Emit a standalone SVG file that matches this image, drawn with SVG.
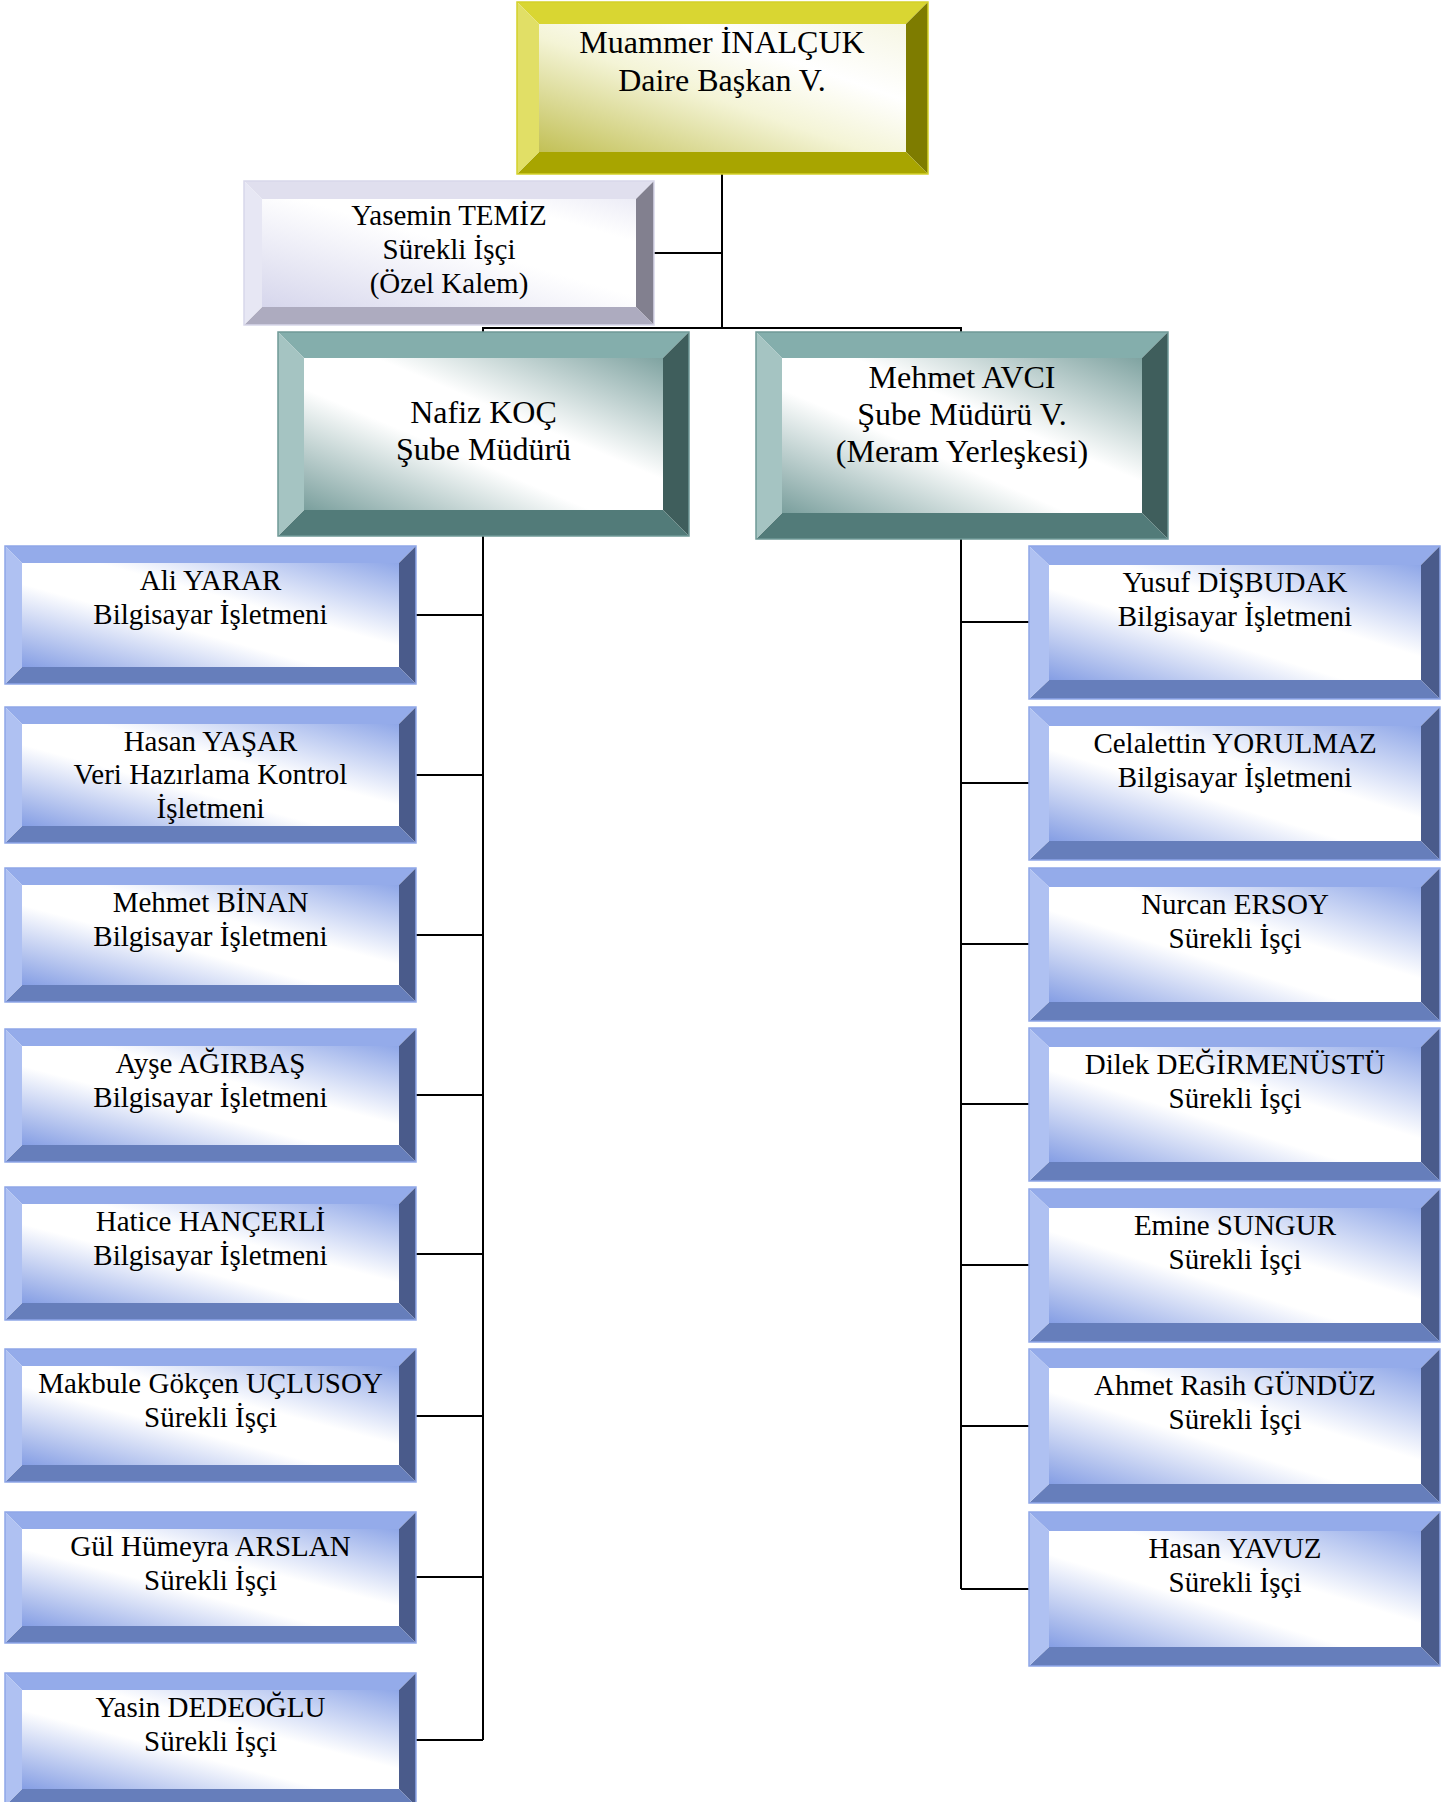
<svg xmlns="http://www.w3.org/2000/svg" width="1453" height="1802" viewBox="0 0 1453 1802">
<style>
text{font-family:"Liberation Serif","Times New Roman",serif;fill:#000;text-anchor:middle}
.t29{font-size:29px}.t32{font-size:32px}
.bt{fill:#94abea}.bl{fill:#afc1f2}.br{fill:#4a5b8b}.bb{fill:#667ebb}.bi{fill:url(#gB)}
.tt{fill:#84aeac}.tl{fill:#a5c4c2}.tr{fill:#3f5e5c}.tb{fill:#527b79}.ti{fill:url(#gT)}
.yt{fill:#d9d632}.yl{fill:#e1df66}.yr{fill:#7e7c00}.yb{fill:#a8a500}.yi{fill:url(#gY)}
.gt{fill:#e0dfee}.gl{fill:#e7e7f4}.gr{fill:#82808f}.gb{fill:#adabbf}.gi{fill:url(#gG)}
.edgeB{fill:none;stroke:#8ea6e8;stroke-width:1.5}
.edgeT{fill:none;stroke:#6f9997;stroke-width:1.5}
.edgeY{fill:none;stroke:#d4d12a;stroke-width:1.5}
.edgeG{fill:none;stroke:#d8d7ea;stroke-width:1.5}
.con{fill:none;stroke:#000;stroke-width:2}
</style>
<defs>
<linearGradient id="gB" x1="1" y1="0" x2="0" y2="1">
<stop offset="0" stop-color="#8fa7e8"/><stop offset="0.4" stop-color="#ffffff"/><stop offset="0.6" stop-color="#ffffff"/><stop offset="1" stop-color="#859ee4"/>
</linearGradient>
<linearGradient id="gT" x1="1" y1="0" x2="0" y2="1">
<stop offset="0" stop-color="#7fa3a1"/><stop offset="0.4" stop-color="#ffffff"/><stop offset="0.6" stop-color="#ffffff"/><stop offset="1" stop-color="#7a9f9d"/>
</linearGradient>
<linearGradient id="gY" x1="0" y1="1" x2="1" y2="0">
<stop offset="0" stop-color="#c2c056"/><stop offset="0.45" stop-color="#f4f4d6"/><stop offset="0.7" stop-color="#ffffff"/><stop offset="1" stop-color="#f6f6e4"/>
</linearGradient>
<linearGradient id="gG" x1="0" y1="1" x2="1" y2="0">
<stop offset="0" stop-color="#d6d6ec"/><stop offset="0.55" stop-color="#ffffff"/><stop offset="0.8" stop-color="#ffffff"/><stop offset="1" stop-color="#ececf6"/>
</linearGradient>
</defs>

<g id="connectors">
<path class="con" d="M722,174 V328 M654,253 H722 M483,328 H961 M483,327 V332 M961,327 V332"/>
<path class="con" d="M483,536 V1740 M416,615 H483 M416,775 H483 M416,935 H483 M416,1095 H483 M416,1254 H483 M416,1416 H483 M416,1577 H483 M416,1740 H483"/>
<path class="con" d="M961,539 V1589 M961,622 H1029 M961,783 H1029 M961,944 H1029 M961,1104 H1029 M961,1265 H1029 M961,1426 H1029 M961,1589 H1029"/>
</g>

<g id="n-inalcuk">
<polygon class="yt" points="517,2 928,2 906,24 539,24"/>
<polygon class="yr" points="928,2 928,174 906,152 906,24"/>
<polygon class="yb" points="517,174 928,174 906,152 539,152"/>
<polygon class="yl" points="517,2 539,24 539,152 517,174"/>
<rect class="yi" x="539" y="24" width="367" height="128"/>
<rect class="edgeY" x="517" y="2" width="411" height="172"/>
<text class="t32" x="722" y="53">Muammer İNALÇUK</text>
<text class="t32" x="722" y="91">Daire Başkan V.</text>
</g>

<g id="n-temiz">
<polygon class="gt" points="244,181 654,181 636,199 262,199"/>
<polygon class="gr" points="654,181 654,325 636,307 636,199"/>
<polygon class="gb" points="244,325 654,325 636,307 262,307"/>
<polygon class="gl" points="244,181 262,199 262,307 244,325"/>
<rect class="gi" x="262" y="199" width="374" height="108"/>
<rect class="edgeG" x="244" y="181" width="410" height="144"/>
<text class="t29" x="449" y="225">Yasemin TEMİZ</text>
<text class="t29" x="449" y="259">Sürekli İşçi</text>
<text class="t29" x="449" y="293">(Özel Kalem)</text>
</g>

<g id="n-koc">
<polygon class="tt" points="278,332 689,332 663,358 304,358"/>
<polygon class="tr" points="689,332 689,536 663,510 663,358"/>
<polygon class="tb" points="278,536 689,536 663,510 304,510"/>
<polygon class="tl" points="278,332 304,358 304,510 278,536"/>
<rect class="ti" x="304" y="358" width="359" height="152"/>
<rect class="edgeT" x="278" y="332" width="411" height="204"/>
<text class="t32" x="483.5" y="423">Nafiz KOÇ</text>
<text class="t32" x="483.5" y="460">Şube Müdürü</text>
</g>

<g id="n-avci">
<polygon class="tt" points="756,332 1168,332 1142,358 782,358"/>
<polygon class="tr" points="1168,332 1168,539 1142,513 1142,358"/>
<polygon class="tb" points="756,539 1168,539 1142,513 782,513"/>
<polygon class="tl" points="756,332 782,358 782,513 756,539"/>
<rect class="ti" x="782" y="358" width="360" height="155"/>
<rect class="edgeT" x="756" y="332" width="412" height="207"/>
<text class="t32" x="962" y="388">Mehmet AVCI</text>
<text class="t32" x="962" y="425">Şube Müdürü V.</text>
<text class="t32" x="962" y="462">(Meram Yerleşkesi)</text>
</g>

<g id="n-yarar">
<polygon class="bt" points="5,546 416,546 399,563 22,563"/>
<polygon class="br" points="416,546 416,684 399,667 399,563"/>
<polygon class="bb" points="5,684 416,684 399,667 22,667"/>
<polygon class="bl" points="5,546 22,563 22,667 5,684"/>
<rect class="bi" x="22" y="563" width="377" height="104"/>
<rect class="edgeB" x="5" y="546" width="411" height="138"/>
<text class="t29" x="210.5" y="590">Ali YARAR</text>
<text class="t29" x="210.5" y="624">Bilgisayar İşletmeni</text>
</g>

<g id="n-yasar">
<polygon class="bt" points="5,707 416,707 399,724 22,724"/>
<polygon class="br" points="416,707 416,843 399,826 399,724"/>
<polygon class="bb" points="5,843 416,843 399,826 22,826"/>
<polygon class="bl" points="5,707 22,724 22,826 5,843"/>
<rect class="bi" x="22" y="724" width="377" height="102"/>
<rect class="edgeB" x="5" y="707" width="411" height="136"/>
<text class="t29" x="210.5" y="751">Hasan YAŞAR</text>
<text class="t29" x="210.5" y="784">Veri Hazırlama Kontrol</text>
<text class="t29" x="210.5" y="818">İşletmeni</text>
</g>

<g id="n-binan">
<polygon class="bt" points="5,868 416,868 399,885 22,885"/>
<polygon class="br" points="416,868 416,1002 399,985 399,885"/>
<polygon class="bb" points="5,1002 416,1002 399,985 22,985"/>
<polygon class="bl" points="5,868 22,885 22,985 5,1002"/>
<rect class="bi" x="22" y="885" width="377" height="100"/>
<rect class="edgeB" x="5" y="868" width="411" height="134"/>
<text class="t29" x="210.5" y="912">Mehmet BİNAN</text>
<text class="t29" x="210.5" y="946">Bilgisayar İşletmeni</text>
</g>

<g id="n-agirbas">
<polygon class="bt" points="5,1029 416,1029 399,1046 22,1046"/>
<polygon class="br" points="416,1029 416,1162 399,1145 399,1046"/>
<polygon class="bb" points="5,1162 416,1162 399,1145 22,1145"/>
<polygon class="bl" points="5,1029 22,1046 22,1145 5,1162"/>
<rect class="bi" x="22" y="1046" width="377" height="99"/>
<rect class="edgeB" x="5" y="1029" width="411" height="133"/>
<text class="t29" x="210.5" y="1073">Ayşe AĞIRBAŞ</text>
<text class="t29" x="210.5" y="1107">Bilgisayar İşletmeni</text>
</g>

<g id="n-hancerli">
<polygon class="bt" points="5,1187 416,1187 399,1204 22,1204"/>
<polygon class="br" points="416,1187 416,1320 399,1303 399,1204"/>
<polygon class="bb" points="5,1320 416,1320 399,1303 22,1303"/>
<polygon class="bl" points="5,1187 22,1204 22,1303 5,1320"/>
<rect class="bi" x="22" y="1204" width="377" height="99"/>
<rect class="edgeB" x="5" y="1187" width="411" height="133"/>
<text class="t29" x="210.5" y="1231">Hatice HANÇERLİ</text>
<text class="t29" x="210.5" y="1265">Bilgisayar İşletmeni</text>
</g>

<g id="n-uclusoy">
<polygon class="bt" points="5,1349 416,1349 399,1366 22,1366"/>
<polygon class="br" points="416,1349 416,1482 399,1465 399,1366"/>
<polygon class="bb" points="5,1482 416,1482 399,1465 22,1465"/>
<polygon class="bl" points="5,1349 22,1366 22,1465 5,1482"/>
<rect class="bi" x="22" y="1366" width="377" height="99"/>
<rect class="edgeB" x="5" y="1349" width="411" height="133"/>
<text class="t29" x="210.5" y="1393">Makbule Gökçen UÇLUSOY</text>
<text class="t29" x="210.5" y="1427">Sürekli İşçi</text>
</g>

<g id="n-arslan">
<polygon class="bt" points="5,1512 416,1512 399,1529 22,1529"/>
<polygon class="br" points="416,1512 416,1643 399,1626 399,1529"/>
<polygon class="bb" points="5,1643 416,1643 399,1626 22,1626"/>
<polygon class="bl" points="5,1512 22,1529 22,1626 5,1643"/>
<rect class="bi" x="22" y="1529" width="377" height="97"/>
<rect class="edgeB" x="5" y="1512" width="411" height="131"/>
<text class="t29" x="210.5" y="1556">Gül Hümeyra ARSLAN</text>
<text class="t29" x="210.5" y="1590">Sürekli İşçi</text>
</g>

<g id="n-dedeoglu">
<polygon class="bt" points="5,1673 416,1673 399,1690 22,1690"/>
<polygon class="br" points="416,1673 416,1806 399,1789 399,1690"/>
<polygon class="bb" points="5,1806 416,1806 399,1789 22,1789"/>
<polygon class="bl" points="5,1673 22,1690 22,1789 5,1806"/>
<rect class="bi" x="22" y="1690" width="377" height="99"/>
<rect class="edgeB" x="5" y="1673" width="411" height="133"/>
<text class="t29" x="210.5" y="1717">Yasin DEDEOĞLU</text>
<text class="t29" x="210.5" y="1751">Sürekli İşçi</text>
</g>

<g id="n-disbudak">
<polygon class="bt" points="1029,546 1440,546 1421,565 1049,565"/>
<polygon class="br" points="1440,546 1440,699 1421,680 1421,565"/>
<polygon class="bb" points="1029,699 1440,699 1421,680 1049,680"/>
<polygon class="bl" points="1029,546 1049,565 1049,680 1029,699"/>
<rect class="bi" x="1049" y="565" width="372" height="115"/>
<rect class="edgeB" x="1029" y="546" width="411" height="153"/>
<text class="t29" x="1235" y="592">Yusuf DİŞBUDAK</text>
<text class="t29" x="1235" y="626">Bilgisayar İşletmeni</text>
</g>

<g id="n-yorulmaz">
<polygon class="bt" points="1029,707 1440,707 1421,726 1049,726"/>
<polygon class="br" points="1440,707 1440,860 1421,841 1421,726"/>
<polygon class="bb" points="1029,860 1440,860 1421,841 1049,841"/>
<polygon class="bl" points="1029,707 1049,726 1049,841 1029,860"/>
<rect class="bi" x="1049" y="726" width="372" height="115"/>
<rect class="edgeB" x="1029" y="707" width="411" height="153"/>
<text class="t29" x="1235" y="753">Celalettin YORULMAZ</text>
<text class="t29" x="1235" y="787">Bilgisayar İşletmeni</text>
</g>

<g id="n-ersoy">
<polygon class="bt" points="1029,868 1440,868 1421,887 1049,887"/>
<polygon class="br" points="1440,868 1440,1021 1421,1002 1421,887"/>
<polygon class="bb" points="1029,1021 1440,1021 1421,1002 1049,1002"/>
<polygon class="bl" points="1029,868 1049,887 1049,1002 1029,1021"/>
<rect class="bi" x="1049" y="887" width="372" height="115"/>
<rect class="edgeB" x="1029" y="868" width="411" height="153"/>
<text class="t29" x="1235" y="914">Nurcan ERSOY</text>
<text class="t29" x="1235" y="948">Sürekli İşçi</text>
</g>

<g id="n-degirmenustu">
<polygon class="bt" points="1029,1028 1440,1028 1421,1047 1049,1047"/>
<polygon class="br" points="1440,1028 1440,1181 1421,1162 1421,1047"/>
<polygon class="bb" points="1029,1181 1440,1181 1421,1162 1049,1162"/>
<polygon class="bl" points="1029,1028 1049,1047 1049,1162 1029,1181"/>
<rect class="bi" x="1049" y="1047" width="372" height="115"/>
<rect class="edgeB" x="1029" y="1028" width="411" height="153"/>
<text class="t29" x="1235" y="1074">Dilek DEĞİRMENÜSTÜ</text>
<text class="t29" x="1235" y="1108">Sürekli İşçi</text>
</g>

<g id="n-sungur">
<polygon class="bt" points="1029,1189 1440,1189 1421,1208 1049,1208"/>
<polygon class="br" points="1440,1189 1440,1342 1421,1323 1421,1208"/>
<polygon class="bb" points="1029,1342 1440,1342 1421,1323 1049,1323"/>
<polygon class="bl" points="1029,1189 1049,1208 1049,1323 1029,1342"/>
<rect class="bi" x="1049" y="1208" width="372" height="115"/>
<rect class="edgeB" x="1029" y="1189" width="411" height="153"/>
<text class="t29" x="1235" y="1235">Emine SUNGUR</text>
<text class="t29" x="1235" y="1269">Sürekli İşçi</text>
</g>

<g id="n-gunduz">
<polygon class="bt" points="1029,1349 1440,1349 1421,1368 1049,1368"/>
<polygon class="br" points="1440,1349 1440,1503 1421,1484 1421,1368"/>
<polygon class="bb" points="1029,1503 1440,1503 1421,1484 1049,1484"/>
<polygon class="bl" points="1029,1349 1049,1368 1049,1484 1029,1503"/>
<rect class="bi" x="1049" y="1368" width="372" height="116"/>
<rect class="edgeB" x="1029" y="1349" width="411" height="154"/>
<text class="t29" x="1235" y="1395">Ahmet Rasih GÜNDÜZ</text>
<text class="t29" x="1235" y="1429">Sürekli İşçi</text>
</g>

<g id="n-yavuz">
<polygon class="bt" points="1029,1512 1440,1512 1421,1531 1049,1531"/>
<polygon class="br" points="1440,1512 1440,1666 1421,1647 1421,1531"/>
<polygon class="bb" points="1029,1666 1440,1666 1421,1647 1049,1647"/>
<polygon class="bl" points="1029,1512 1049,1531 1049,1647 1029,1666"/>
<rect class="bi" x="1049" y="1531" width="372" height="116"/>
<rect class="edgeB" x="1029" y="1512" width="411" height="154"/>
<text class="t29" x="1235" y="1558">Hasan YAVUZ</text>
<text class="t29" x="1235" y="1592">Sürekli İşçi</text>
</g>
</svg>
